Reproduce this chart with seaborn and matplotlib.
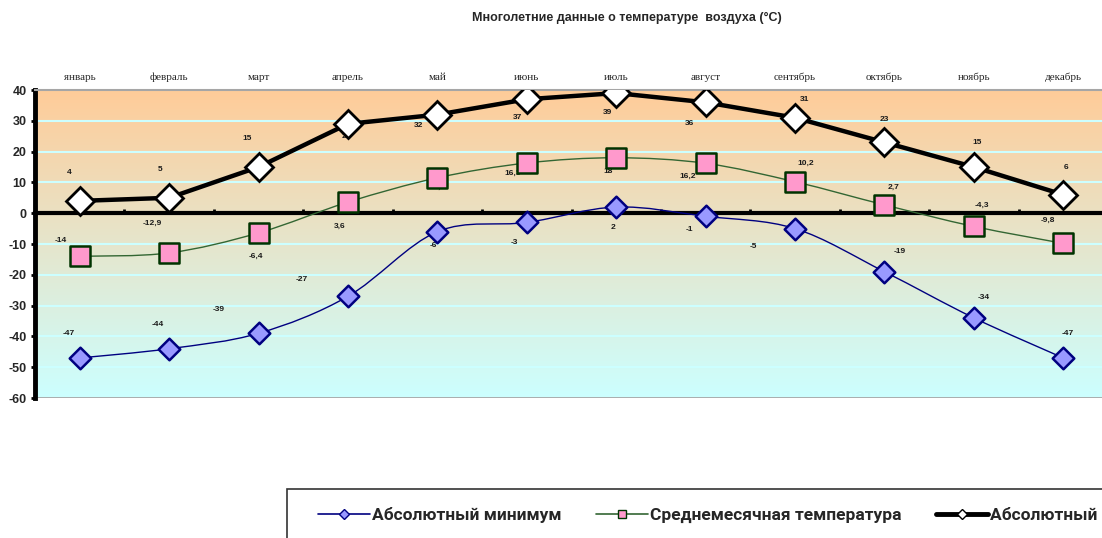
import numpy as np
import pandas as pd
import matplotlib
matplotlib.use("Agg")
import matplotlib.pyplot as plt
import seaborn as sns
from matplotlib.path import Path
from matplotlib.patches import PathPatch, Rectangle
from matplotlib.lines import Line2D
from matplotlib.colors import LinearSegmentedColormap

# Chart data
months = ["январь", "февраль", "март", "апрель", "май", "июнь",
          "июль", "август", "сентябрь", "октябрь", "ноябрь", "декабрь"]
absMin = [-47, -44, -39, -27, -6, -3, 2, -1, -5, -19, -34, -47]
meanTemp = [-14, -12.9, -6.4, 3.6, 11.5, 16.3, 18, 16.2, 10.2, 2.7, -4.3, -9.8]
absMax = [4, 5, 15, 29, 32, 37, 39, 36, 31, 23, 15, 6]
seriesNames = ["Абсолютный минимум", "Среднемесячная температура", "Абсолютный максимум"]
yTicks = [40, 30, 20, 10, 0, -10, -20, -30, -40, -50, -60]

# Label offsets (pixels, relative to the marker)
minOffsets = [(-11, 24), (-11, 24), (-40, 24), (-46, 17), (-4, -14), (-12, -20),
              (-3, -20), (-16, -13), (-42, -18), (15, 20), (10, 20), (4, 24)]
meanOffsets = [(-19, 16), (-17, 30), (-3, -23), (-8, -24), (0, -10), (-14, -10),
               (-8, -14), (-18, -13), (11, 18), (9, 18), (8, 21), (-15, 23)]
maxOffsets = [(-10, 28), (-9, 28), (-11, 29), (-2, -13), (-19, -11), (-9, -18),
              (-9, -19), (-16, -21), (9, 18), (0, 23), (3, 25), (3, 27)]


def smoothPath(xs, ys):
    """Excel-like smoothed line through the points (cubic Bezier segments)."""
    pts = np.column_stack([xs, ys]).astype(float)
    n = len(pts)
    verts = [tuple(pts[0])]
    codes = [Path.MOVETO]
    for i in range(n - 1):
        p0 = pts[i - 1] if i > 0 else pts[i]
        p1 = pts[i]
        p2 = pts[i + 1]
        p3 = pts[i + 2] if i + 2 < n else pts[i + 1]
        c1 = p1 + (p2 - p0) / 6.0
        c2 = p2 - (p3 - p1) / 6.0
        verts += [tuple(c1), tuple(c2), tuple(p2)]
        codes += [Path.CURVE4] * 3
    return Path(verts, codes)


def fmt(v):
    return f"{v:g}".replace(".", ",")


sns.set_theme(style="white")
plt.rcParams["font.family"] = ["Liberation Sans", "DejaVu Sans"]

W, H = 1102, 538
fig = plt.figure(figsize=(W / 100, H / 100), dpi=100)
ax = fig.add_axes([35 / W, 1 - 398 / H, (1108 - 35) / W, 308 / H])

x = np.arange(len(months))
df = pd.DataFrame({"x": x, "min": absMin, "mean": meanTemp, "max": absMax})

# gradient background
cmap = LinearSegmentedColormap.from_list("bg", ["#FFCC99", "#CCFFFF"])
grad = np.linspace(0, 1, 256).reshape(-1, 1)
ax.imshow(grad, cmap=cmap, extent=(-0.5, 11.5, -60, 40), aspect="auto", zorder=0)

# grid lines
for yv in yTicks:
    if yv not in (0, 40, -60):
        ax.axhline(yv, color="#CCFFFF", lw=1.5, zorder=1)
ax.axhline(-60, color="#A6A6A6", lw=2, zorder=1)

# min series
ax.add_patch(PathPatch(smoothPath(x, absMin), facecolor="none", edgecolor="#000080",
                       lw=1.0, zorder=5))
sns.scatterplot(data=df, x="x", y="min", marker="D", s=11 ** 2, color="#9999FF",
                edgecolor="#000080", linewidth=1.8, ax=ax, zorder=6, legend=False)

# mean series
ax.add_patch(PathPatch(smoothPath(x, meanTemp), facecolor="none", edgecolor="#336633",
                       lw=1.0, zorder=5))
sns.scatterplot(data=df, x="x", y="mean", marker="s", s=14 ** 2, color="#FF99CC",
                edgecolor="#003300", linewidth=1.8, ax=ax, zorder=6, legend=False)

# max series
sns.lineplot(data=df, x="x", y="max", color="black", lw=3.2, marker="D",
             markersize=14, markerfacecolor="white", markeredgecolor="black",
             markeredgewidth=2, ax=ax, zorder=7)

# data labels
for vals, offs in ((absMin, minOffsets), (meanTemp, meanOffsets), (absMax, maxOffsets)):
    for xi, v, (dx, dy) in zip(x, vals, offs):
        ax.annotate(fmt(v), (xi, v), xytext=(dx, dy), textcoords="offset pixels",
                    ha="center", va="center", fontsize=6, fontweight="bold",
                    color="#1a1a1a", zorder=4)

# axes
ax.set_xlim(-0.5, 11.5)
ax.set_ylim(-60, 40)
ax.set_xlabel("")
ax.set_ylabel("")
ax.set_yticks(yTicks)
ax.set_yticklabels([str(t) for t in yTicks], fontsize=9, fontweight="bold")
ax.tick_params(axis="y", direction="out", length=3, width=2, color="black", pad=3, left=True)
ax.set_xticks(np.arange(0.5, 11.5, 1.0))
ax.set_xticklabels([])
ax.tick_params(axis="x", direction="in", length=3, width=2, color="black", bottom=True)

ax.spines["bottom"].set_position(("data", 0))
ax.spines["bottom"].set_linewidth(3)
ax.spines["bottom"].set_color("black")
ax.spines["bottom"].set_zorder(3)
ax.spines["left"].set_linewidth(3.5)
ax.spines["left"].set_color("black")
ax.spines["top"].set_color("#A6A6A6")
ax.spines["top"].set_linewidth(1.5)
ax.spines["right"].set_visible(False)

top = ax.secondary_xaxis("top")
top.set_xticks(x)
top.set_xticklabels(months, fontsize=8, family="Liberation Serif")
top.tick_params(length=0, pad=6)
top.spines["top"].set_visible(False)

fig.text(627 / W, 1 - 18 / H, "Многолетние данные о температуре  воздуха (°C)",
         ha="center", va="center", fontsize=9, fontweight="bold")

# legend box (runs past the right and bottom edges, as in the source)
fig.patches.append(Rectangle((287 / W, -0.1), 1.0, 1 - 489 / H + 0.1,
                             transform=fig.transFigure, facecolor="white",
                             edgecolor="#333333", lw=1.2, zorder=0))

handles = [
    Line2D([], [], color="#000080", lw=1.2, marker="D", markersize=5,
           markerfacecolor="#9999FF", markeredgecolor="#000080"),
    Line2D([], [], color="#336633", lw=1.2, marker="s", markersize=6,
           markerfacecolor="#FF99CC", markeredgecolor="#003300"),
    Line2D([], [], color="black", lw=3.5, marker="D", markersize=5,
           markerfacecolor="white", markeredgecolor="black"),
]
leg = fig.legend(handles, seriesNames, loc="center left",
                 bbox_to_anchor=(318 / W, 1 - 515 / H), ncol=3,
                 prop={"family": "Roboto", "weight": "bold", "size": 12.5},
                 frameon=False, handlelength=3.0, handletextpad=0.1,
                 columnspacing=2.0, borderpad=0, borderaxespad=0)

fig.savefig("out.png", dpi=100)
